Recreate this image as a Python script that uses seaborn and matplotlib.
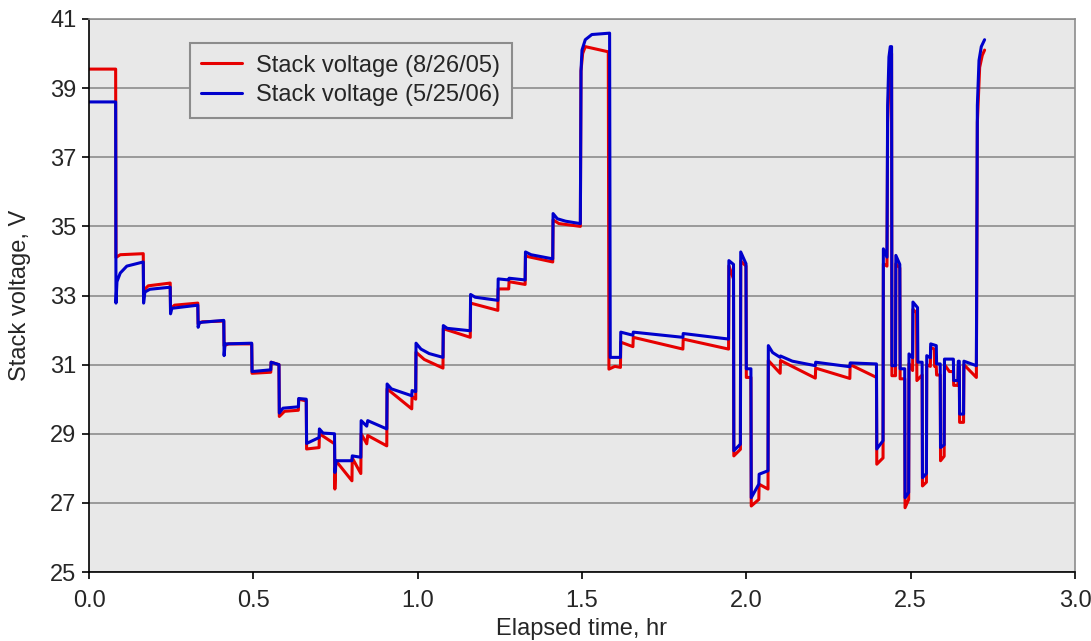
import numpy as np
import pandas as pd
import seaborn as sns
import matplotlib
matplotlib.use("Agg")
import matplotlib.pyplot as plt

# breakpoints (hours, volts)
red_t = [0.000, 0.081, 0.082, 0.095, 0.165, 0.166, 0.180, 0.247, 0.248, 0.260,
         0.331, 0.332, 0.345, 0.410, 0.411, 0.425, 0.495, 0.496, 0.553, 0.554,
         0.578, 0.579, 0.595, 0.637, 0.638, 0.661, 0.662, 0.700, 0.701, 0.747,
         0.748, 0.751, 0.800, 0.801, 0.827, 0.828, 0.845, 0.848, 0.906, 0.907,
         0.982, 0.983, 0.994, 0.995, 1.020, 1.077, 1.078, 1.160, 1.161, 1.244,
         1.245, 1.277, 1.278, 1.327, 1.328, 1.411, 1.412, 1.430, 1.495, 1.497,
         1.502, 1.510, 1.580, 1.582, 1.600, 1.617, 1.618, 1.655, 1.656, 1.807,
         1.808, 1.946, 1.947, 1.961, 1.962, 1.982, 1.983, 1.999, 2.000, 2.014,
         2.015, 2.038, 2.039, 2.066, 2.067, 2.103, 2.104, 2.210, 2.211, 2.315,
         2.316, 2.396, 2.397, 2.416, 2.417, 2.428, 2.430, 2.436, 2.442, 2.443,
         2.454, 2.455, 2.467, 2.468, 2.482, 2.483, 2.494, 2.495, 2.506, 2.507,
         2.518, 2.519, 2.535, 2.536, 2.548, 2.549, 2.560, 2.561, 2.572, 2.573,
         2.578, 2.579, 2.590, 2.591, 2.602, 2.603, 2.618, 2.630, 2.631, 2.644,
         2.645, 2.648, 2.649, 2.661, 2.662, 2.700, 2.703, 2.710, 2.718, 2.725]
red_v = [39.55, 39.55, 34.10, 34.18, 34.21, 33.14, 33.28, 33.36, 32.61, 32.72,
         32.78, 32.18, 32.24, 32.26, 31.55, 31.60, 31.60, 30.75, 30.78, 31.07,
         31.00, 29.50, 29.65, 29.68, 30.00, 29.95, 28.56, 28.60, 29.00, 28.71,
         27.40, 28.22, 27.64, 28.30, 27.85, 29.00, 28.71, 28.95, 28.65, 30.30,
         29.72, 30.08, 30.00, 31.36, 31.15, 30.90, 32.04, 31.79, 32.78, 32.57,
         33.19, 33.19, 33.40, 33.32, 34.14, 33.97, 35.19, 35.08, 35.00, 39.50,
         40.00, 40.20, 40.05, 30.87, 30.95, 30.92, 31.65, 31.52, 31.79, 31.45,
         31.74, 31.45, 33.86, 33.48, 28.36, 28.55, 34.00, 33.85, 30.63, 30.63,
         26.91, 27.10, 27.54, 27.40, 31.12, 30.75, 31.12, 30.61, 30.90, 30.60,
         31.00, 30.63, 28.12, 28.30, 33.92, 33.85, 38.00, 39.70, 40.00, 30.68,
         30.68, 33.92, 33.80, 30.59, 30.59, 26.86, 27.10, 31.03, 30.83, 32.60,
         32.50, 30.54, 30.70, 27.49, 27.60, 31.00, 30.95, 31.50, 31.45, 30.95,
         30.95, 30.70, 30.70, 28.22, 28.35, 31.00, 30.80, 30.80, 30.40, 30.40,
         30.95, 30.95, 29.33, 29.33, 31.00, 30.63, 38.00, 39.60, 39.95, 40.10]

blue_t = [0.000, 0.081, 0.082, 0.085, 0.095, 0.115, 0.165, 0.166, 0.170, 0.185,
          0.247, 0.248, 0.252, 0.331, 0.332, 0.336, 0.410, 0.411, 0.414, 0.495,
          0.496, 0.553, 0.554, 0.578, 0.579, 0.590, 0.637, 0.638, 0.661, 0.662,
          0.700, 0.701, 0.712, 0.747, 0.748, 0.752, 0.800, 0.801, 0.827, 0.828,
          0.845, 0.848, 0.906, 0.907, 0.920, 0.982, 0.983, 0.994, 0.995, 1.010,
          1.035, 1.077, 1.078, 1.090, 1.160, 1.161, 1.175, 1.244, 1.245, 1.277,
          1.278, 1.327, 1.328, 1.345, 1.411, 1.412, 1.425, 1.450, 1.495, 1.497,
          1.500, 1.510, 1.530, 1.584, 1.586, 1.617, 1.618, 1.655, 1.656, 1.807,
          1.808, 1.946, 1.947, 1.961, 1.962, 1.982, 1.983, 1.999, 2.000, 2.014,
          2.015, 2.038, 2.039, 2.066, 2.067, 2.080, 2.103, 2.104, 2.140, 2.210,
          2.211, 2.315, 2.316, 2.396, 2.397, 2.416, 2.417, 2.428, 2.430, 2.434,
          2.438, 2.442, 2.443, 2.454, 2.455, 2.467, 2.468, 2.482, 2.483, 2.494,
          2.495, 2.506, 2.507, 2.521, 2.522, 2.535, 2.536, 2.548, 2.549, 2.560,
          2.561, 2.578, 2.579, 2.590, 2.591, 2.602, 2.603, 2.630, 2.631, 2.644,
          2.645, 2.648, 2.649, 2.661, 2.662, 2.700, 2.703, 2.708, 2.715, 2.725]
blue_v = [38.60, 38.60, 32.78, 33.40, 33.65, 33.85, 33.97, 32.78, 33.10, 33.18,
          33.24, 32.47, 32.63, 32.72, 32.08, 32.22, 32.28, 31.26, 31.60, 31.62,
          30.80, 30.85, 31.07, 31.00, 29.60, 29.74, 29.78, 30.02, 30.00, 28.72,
          28.89, 29.14, 29.02, 29.00, 27.88, 28.22, 28.22, 28.36, 28.32, 29.38,
          29.22, 29.38, 29.14, 30.44, 30.30, 30.10, 30.25, 30.22, 31.62, 31.45,
          31.32, 31.21, 32.13, 32.05, 31.98, 33.03, 32.95, 32.86, 33.48, 33.45,
          33.50, 33.45, 34.26, 34.18, 34.06, 35.37, 35.22, 35.15, 35.08, 39.50,
          40.10, 40.40, 40.55, 40.59, 31.21, 31.21, 31.94, 31.85, 31.94, 31.79,
          31.90, 31.74, 34.01, 33.90, 28.51, 28.70, 34.26, 33.92, 30.88, 30.88,
          27.15, 27.54, 27.83, 27.93, 31.55, 31.35, 31.21, 31.25, 31.10, 30.97,
          31.07, 30.94, 31.05, 31.02, 28.56, 28.80, 34.35, 34.11, 38.50, 39.90,
          40.20, 40.20, 30.97, 30.97, 34.16, 33.90, 30.88, 30.88, 27.15, 27.30,
          31.31, 31.20, 32.81, 32.65, 31.07, 31.07, 27.73, 27.85, 31.26, 31.20,
          31.60, 31.55, 31.02, 31.02, 28.60, 28.68, 31.16, 31.16, 30.54, 30.54,
          31.10, 31.10, 29.57, 29.57, 31.10, 30.97, 38.50, 39.80, 40.20, 40.40]

series_names = ["Stack voltage (8/26/05)", "Stack voltage (5/25/06)"]
y_ticks = [25, 27, 29, 31, 33, 35, 37, 39, 41]
x_ticks = [0.0, 0.5, 1.0, 1.5, 2.0, 2.5, 3.0]

df = pd.concat([
    pd.DataFrame({"t": red_t, "v": red_v, "series": series_names[0], "idx": np.arange(len(red_t))}),
    pd.DataFrame({"t": blue_t, "v": blue_v, "series": series_names[1], "idx": np.arange(len(blue_t))}),
])

sns.set_theme(style="white")
plt.rcParams["font.family"] = ["Liberation Sans", "DejaVu Sans"]

fig = plt.figure(figsize=(10.91, 6.41), dpi=100)
ax = fig.add_axes([0.0816, 0.1076, 0.9037, 0.8628])
ax.set_facecolor("#e8e8e8")

sns.lineplot(data=df, x="t", y="v", hue="series", sort=False, estimator=None,
             palette={series_names[0]: "#e60000", series_names[1]: "#0000cc"},
             linewidth=2.2, ax=ax)

ax.set_xlim(0, 3.0)
ax.set_ylim(25, 41)
ax.set_xticks(x_ticks)
ax.set_xticklabels([f"{x:.1f}" for x in x_ticks])
ax.set_yticks(y_ticks)
ax.yaxis.grid(True, color="#8c8c8c", linewidth=1.2)
ax.set_axisbelow(True)

for side in ["left", "bottom"]:
    ax.spines[side].set_color("black")
    ax.spines[side].set_linewidth(1.2)
for side in ["top", "right"]:
    ax.spines[side].set_color("#8c8c8c")
    ax.spines[side].set_linewidth(1.2)

ax.tick_params(axis="both", direction="out", length=5, width=1.2, color="black",
               labelsize=17, bottom=True, left=True)
ax.tick_params(axis="x", pad=8)
ax.tick_params(axis="y", pad=4)
ax.set_xlabel("Elapsed time, hr", fontsize=17, labelpad=4)
ax.set_ylabel("Stack voltage, V", fontsize=17, labelpad=14)

leg = ax.legend(loc="upper left", bbox_to_anchor=(0.102, 0.957), borderaxespad=0,
                fontsize=17, frameon=True, fancybox=False, handlelength=1.7,
                handletextpad=0.6, labelspacing=0.32, borderpad=0.5)
leg.get_frame().set_facecolor("#e8e8e8")
leg.get_frame().set_edgecolor("#8c8c8c")
leg.get_frame().set_linewidth(1.5)
leg.get_frame().set_alpha(1)

fig.savefig("out.png", dpi=100)
